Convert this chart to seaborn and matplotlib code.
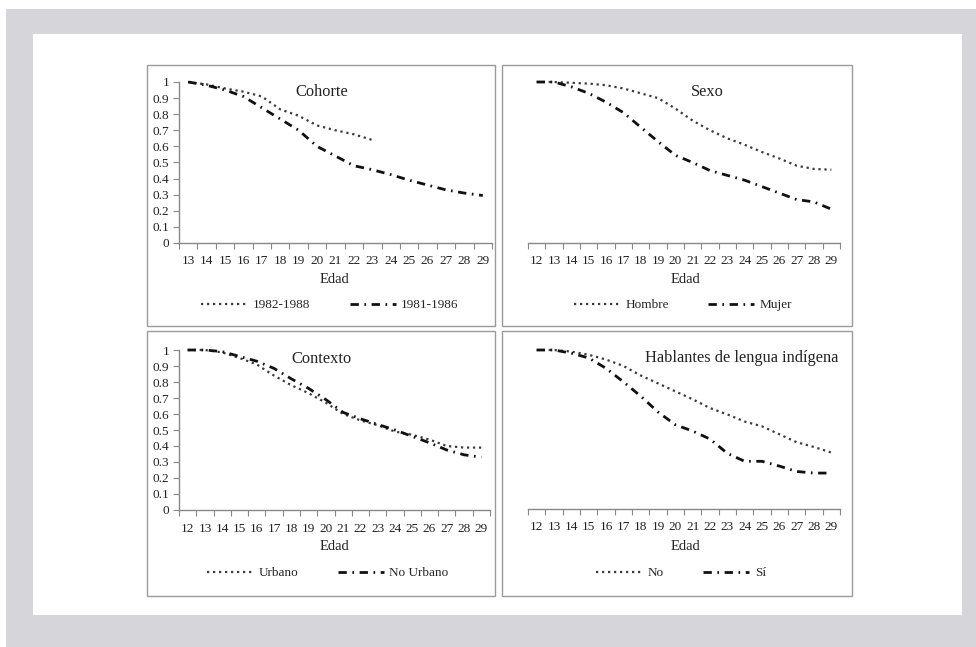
import numpy as np
import pandas as pd
import matplotlib
matplotlib.use("Agg")
import matplotlib.pyplot as plt
from matplotlib.patches import Rectangle
import seaborn as sns

# ---------------- data ----------------
edad_cohorte = list(range(13, 30))
cohorte_1982_1988 = [1.00, 0.985, 0.96, 0.94, 0.91, 0.83, 0.79, 0.73, 0.70, 0.675, 0.64]
cohorte_1981_1986 = [1.00, 0.98, 0.95, 0.91, 0.84, 0.77, 0.70, 0.60, 0.54, 0.48, 0.455,
                     0.425, 0.39, 0.36, 0.33, 0.31, 0.295]

edad = list(range(12, 30))
sexo_hombre = [1.00, 1.00, 0.995, 0.99, 0.98, 0.96, 0.93, 0.90, 0.835, 0.76, 0.70,
               0.65, 0.61, 0.565, 0.525, 0.48, 0.46, 0.455]
sexo_mujer = [1.00, 1.00, 0.97, 0.93, 0.875, 0.81, 0.72, 0.63, 0.545, 0.50, 0.45,
              0.42, 0.39, 0.35, 0.31, 0.27, 0.255, 0.21]

contexto_urbano = [1.00, 1.00, 0.985, 0.95, 0.91, 0.84, 0.78, 0.73, 0.67, 0.60, 0.56,
                   0.53, 0.49, 0.47, 0.44, 0.40, 0.39, 0.39]
contexto_no_urbano = [1.00, 1.00, 0.99, 0.96, 0.93, 0.885, 0.82, 0.76, 0.69, 0.61, 0.57,
                      0.535, 0.50, 0.46, 0.42, 0.375, 0.345, 0.33]

hli_no = [1.00, 1.00, 0.99, 0.97, 0.94, 0.90, 0.84, 0.79, 0.74, 0.69, 0.635,
          0.595, 0.55, 0.52, 0.47, 0.42, 0.39, 0.355]
hli_si = [1.00, 1.00, 0.98, 0.95, 0.885, 0.80, 0.71, 0.61, 0.53, 0.49, 0.44,
          0.35, 0.30, 0.30, 0.27, 0.236, 0.226, 0.226]

y_ticks = [0, 0.1, 0.2, 0.3, 0.4, 0.5, 0.6, 0.7, 0.8, 0.9, 1]
y_ticklabels = ["0", "0.1", "0.2", "0.3", "0.4", "0.5", "0.6", "0.7", "0.8", "0.9", "1"]

# ---------------- style ----------------
sns.set_theme(style="white")
plt.rcParams["font.family"] = ["Liberation Serif", "DejaVu Serif"]

W, H = 976, 647
fig = plt.figure(figsize=(W / 100, H / 100), dpi=100)
fig.patch.set_facecolor("#d6d5da")


def frect(x0, y0, x1, y1, **kw):
    fig.patches.append(Rectangle((x0 / W, 1 - y1 / H), (x1 - x0) / W, (y1 - y0) / H,
                                 transform=fig.transFigure, **kw))


# white strips and inner white area
frect(0, 0, W, 9, facecolor="white", edgecolor="none", zorder=-10)
frect(0, 0, 6, H, facecolor="white", edgecolor="none", zorder=-10)
frect(33, 34, 962, 615, facecolor="white", edgecolor="none", zorder=-10)

# panel boxes
box_col = "#9a9a9a"
frect(147, 65, 495, 326, facecolor="none", edgecolor=box_col, lw=1, zorder=-5)
frect(502, 65, 852, 326, facecolor="none", edgecolor=box_col, lw=1, zorder=-5)
frect(147, 331, 495, 596, facecolor="none", edgecolor=box_col, lw=1, zorder=-5)
frect(502, 331, 852, 596, facecolor="none", edgecolor=box_col, lw=1, zorder=-5)

DOT = (0, (1, 1.7))
DASHDOT = (0, (3.0, 2.0, 0.6, 2.0))
tick_fs = 9.5


def make_axes(x0, ytop, x1, ybot):
    ax = fig.add_axes([x0 / W, 1 - ybot / H, (x1 - x0) / W, (ybot - ytop) / H])
    ax.set_facecolor("none")
    ax.set_zorder(5)
    return ax


def style_axes(ax, ages, show_y):
    ax.set_xlim(ages[0] - 0.5, ages[-1] + 0.5)
    ax.set_ylim(0, 1)
    ax.set_xticks(ages)
    ax.set_xticklabels([str(a) for a in ages], fontsize=tick_fs)
    ax.set_xticks(np.arange(ages[0] - 0.5, ages[-1] + 1.0, 1.0), minor=True)
    ax.tick_params(axis="x", which="major", length=0, pad=9, colors="#222222")
    ax.tick_params(axis="x", which="minor", length=4, width=0.8, color="#888888",
                   direction="out", bottom=True)
    for s in ["top", "right"]:
        ax.spines[s].set_visible(False)
    ax.spines["bottom"].set_color("#888888")
    ax.spines["bottom"].set_linewidth(1)
    if show_y:
        ax.set_yticks(y_ticks)
        ax.set_yticklabels(y_ticklabels, fontsize=tick_fs)
        ax.tick_params(axis="y", length=4, width=0.8, direction="out",
                       left=True, pad=3, labelcolor="#222222", color="#888888")
        ax.spines["left"].set_color("#888888")
        ax.spines["left"].set_linewidth(1)
    else:
        ax.set_yticks([])
        ax.spines["left"].set_visible(False)
    ax.set_xlabel("")
    ax.set_ylabel("")
    ax.grid(False)


def draw_panel(ax, ages1, vals1, lab1, ages2, vals2, lab2, show_y, title, title_xy,
               title_ha, edad_xy, leg_xy):
    d1 = pd.DataFrame({"Edad": ages1[:len(vals1)], "valor": vals1})
    d2 = pd.DataFrame({"Edad": ages2[:len(vals2)], "valor": vals2})
    sns.lineplot(data=d1, x="Edad", y="valor", ax=ax, color="#3a3a3a", lw=1.6,
                 linestyle=DOT, label=lab1, clip_on=False)
    sns.lineplot(data=d2, x="Edad", y="valor", ax=ax, color="#111111", lw=2.0,
                 linestyle=DASHDOT, label=lab2, clip_on=False)
    style_axes(ax, ages2, show_y)
    leg = ax.get_legend()
    if leg is not None:
        leg.remove()
    handles = ax.get_lines()[:2]
    ax.legend(handles, [lab1, lab2], loc="center", ncol=2, frameon=False,
              bbox_to_anchor=(leg_xy[0] / W, 1 - leg_xy[1] / H),
              bbox_transform=fig.transFigure, fontsize=9.5, handlelength=3.5,
              handletextpad=0.4, columnspacing=3.0, borderaxespad=0)
    fig.text(title_xy[0] / W, 1 - title_xy[1] / H, title, fontsize=11.8,
             ha=title_ha, va="center", color="#222222")
    fig.text(edad_xy[0] / W, 1 - edad_xy[1] / H, "Edad", fontsize=10.5,
             ha="center", va="center", color="#222222")


ax1 = make_axes(179, 82, 492, 243)
draw_panel(ax1, edad_cohorte, cohorte_1982_1988, "1982-1988",
           edad_cohorte, cohorte_1981_1986, "1981-1986", True,
           "Cohorte", (322, 92), "center", (334, 279), (330, 305))

ax2 = make_axes(528, 82, 840, 243)
draw_panel(ax2, edad, sexo_hombre, "Hombre", edad, sexo_mujer, "Mujer", False,
           "Sexo", (707, 92), "center", (685, 279), (683, 305))

ax3 = make_axes(179, 350, 490, 510)
draw_panel(ax3, edad, contexto_urbano, "Urbano", edad, contexto_no_urbano, "No Urbano",
           True, "Contexto", (322, 359), "center", (334, 547), (328, 573))

ax4 = make_axes(528, 350, 840, 509)
draw_panel(ax4, edad, hli_no, "No", edad, hli_si, "Sí", False,
           "Hablantes de lengua indígena", (838, 358), "right", (685, 547), (681, 573))

fig.savefig("out.png", dpi=100, facecolor=fig.get_facecolor())
